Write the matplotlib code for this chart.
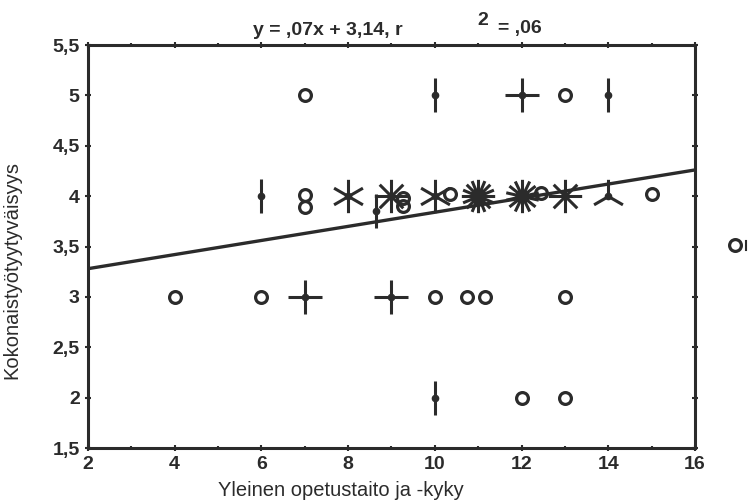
import numpy as np
import matplotlib
matplotlib.use('Agg')
import matplotlib.pyplot as plt
from matplotlib.path import Path

plt.rcParams['font.family'] = ['Liberation Sans', 'DejaVu Sans']

# sunflower points: x, y, number of observations (1 = circle)
px = [7, 13, 7, 7, 9.27, 9.27, 10.35, 12.45, 15, 4, 6, 10, 10.75, 11.15, 13, 12, 13,
      10, 14, 6, 10, 8.65,
      12, 7, 9,
      14,
      8, 10, 9, 13, 12, 11]
py = [5, 5, 4.01, 3.89, 3.98, 3.9, 4.02, 4.03, 4.02, 3, 3, 3, 3, 3, 3, 2, 2,
      5, 5, 4, 2, 3.85,
      5, 3, 3,
      4,
      4, 4, 4, 4, 4, 4]
pn = [1] * 17 + [2] * 5 + [4] * 3 + [3] + [6, 6, 8, 8, 14, 16]

slope, intercept = 0.07, 3.14
xticks = [2, 4, 6, 8, 10, 12, 14, 16]
yticks = [1.5, 2, 2.5, 3, 3.5, 4, 4.5, 5, 5.5]
ylabels = ['1,5', '2', '2,5', '3', '3,5', '4', '4,5', '5', '5,5']
INK = '#2b2b2b'


def petals(n):
    verts, codes = [], []
    for k in range(n):
        a = np.pi / 2 + 2 * np.pi * k / n
        verts += [(0, 0), (np.cos(a), np.sin(a))]
        codes += [Path.MOVETO, Path.LINETO]
    # invisible zero-length ticks so every marker scales the same way
    verts += [(-1, -1), (-1, -1), (1, 1), (1, 1)]
    codes += [Path.MOVETO, Path.LINETO, Path.MOVETO, Path.LINETO]
    return Path(verts, codes)


fig = plt.figure(figsize=(7.48, 5.03), dpi=100)
ax = fig.add_axes([0.1176, 0.1093, 0.8115, 0.8012])

xx = np.array([2, 16])
ax.plot(xx, intercept + slope * xx, color=INK, lw=2.4, zorder=2)

px_a, py_a, pn_a = np.array(px), np.array(py), np.array(pn)
m = pn_a == 1
ax.plot(px_a[m], py_a[m], 'o', ms=8.5, mfc='none', mec=INK, mew=2.3, zorder=3)
for n in sorted(set(pn) - {1}):
    m = pn_a == n
    ax.plot(px_a[m], py_a[m], ls='none', marker=petals(n), ms=24,
            mec=INK, mew=2.2, zorder=3)
    ax.plot(px_a[m], py_a[m], ls='none', marker='o', ms=4.5, color=INK, zorder=4)

# stray marks at the right edge of the scan
ax.plot([16.92], [3.515], 'o', ms=8.5, mfc='none', mec=INK, mew=2.3, clip_on=False)
ax.plot([17.17, 17.17], [3.47, 3.55], color=INK, lw=1.5, clip_on=False)

ax.set_xlim(2, 16)
ax.set_ylim(1.5, 5.5)
ax.set_xticks(xticks)
ax.set_xticks(np.arange(3, 16, 2), minor=True)
ax.set_yticks(yticks)
ax.set_yticklabels(ylabels)
ax.tick_params(which='both', direction='inout', length=5, width=1.5, top=True, right=True,
               color=INK, labelsize=14, labelcolor=INK)
ax.tick_params(which='minor', length=3)
for lab in ax.get_xticklabels() + ax.get_yticklabels():
    lab.set_fontweight('bold')
for s in ax.spines.values():
    s.set_linewidth(2.2)
    s.set_color(INK)

ax.set_xlabel('Yleinen opetustaito ja -kyky', fontsize=14.5, color=INK)
ax.xaxis.set_label_coords(0.417, -0.082)
ax.set_ylabel('Kokonaistyötyytyväisyys', fontsize=14.5, color=INK)
ax.yaxis.set_label_coords(-0.109, 0.442)

fig.text(0.438, 0.930, 'y = ,07x + 3,14, r', ha='center', fontsize=14, fontweight='bold',
         color=INK)
fig.text(0.645, 0.950, '2', ha='center', fontsize=14, fontweight='bold', color=INK)
fig.text(0.666, 0.934, '= ,06', ha='left', fontsize=14, fontweight='bold', color=INK)

fig.savefig('out.png', dpi=100)
